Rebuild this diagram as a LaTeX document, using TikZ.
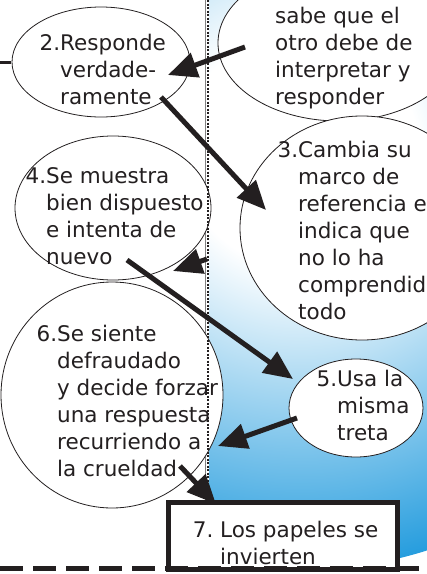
\documentclass[tikz,border=0pt]{standalone}
\usepackage{fontspec}
\setmainfont{DejaVu Sans}
\usetikzlibrary{arrows.meta,shapes.geometric}
\definecolor{skyb}{RGB}{38,157,222}
\definecolor{ink}{RGB}{35,31,32}
\pgfdeclareradialshading{bluerad}{\pgfpoint{0bp}{0bp}}{color(0bp)=(white); color(7bp)=(white); color(25bp)=(skyb); color(50bp)=(skyb)}
\newcommand{\hnum}[1]{\makebox[0pt][r]{#1}}
\tikzset{
  ell/.style={ellipse, draw=ink, line width=0.8pt, fill=white, inner sep=0pt},
  txt/.style={anchor=north west, inner sep=0pt, align=left, text=ink, font=\fontsize{21.5}{27}\selectfont},
  arr/.style={draw=ink, line width=5pt, -{Triangle[length=29pt,width=25pt]}},
  boxseven/.style={draw=ink, line width=5pt, fill=white, inner sep=0pt},
}
\begin{document}
\begin{tikzpicture}[x=1pt,y=-1pt]
\useasboundingbox (0,0) rectangle (427,574);
\clip (0,0) rectangle (427,574);
% gradient panel
\begin{scope}
  \clip (209,0) rectangle (427,574);
  \shade[shading=bluerad] (300,150) circle (420pt);
\end{scope}
% thin vertical line
\draw[gray, line width=0.8pt] (205,0) -- (205,500);
% ellipses
\node[ell, minimum width=242, minimum height=156] (e1) at (339,43) {};
\node[ell, minimum width=178, minimum height=110] (e2) at (101,62) {};
\node[ell, minimum width=244, minimum height=224] (e3) at (362,228) {};
\node[ell, minimum width=196, minimum height=144] (e4) at (113,208) {};
\node[ell, minimum width=222, minimum height=226] (e6) at (112,395) {};
\node[ell, minimum width=134, minimum height=98] (e5) at (356,408) {};
% box 7
\node[boxseven, minimum width=229, minimum height=67] (b7) at (283,535.5) {};
% texts
\node[txt] (t1) at (275,4.1) {\strut sabe que el\\otro debe de\\interpretar y\\responder};
\node[txt] (t2) at (60,31.1) {\strut\hnum{2.}Responde\\verdade-\\ramente};
\node[txt] (t3) at (298,138.1) {\strut\hnum{3.}Cambia su\\marco de\\referencia en\\indica que\\no lo ha\\comprendido\\todo};
\node[txt] (t4) at (46,164.1) {\strut\hnum{4.}Se muestra\\bien dispuesto\\e intenta de\\nuevo};
\node[txt] (t6) at (57,322.1) {\strut\hnum{6.}Se siente\\defraudado\\y decide forzar\\una respuesta\\recurriendo a\\la crueldad};
\node[txt] (t5) at (337,367.1) {\strut\hnum{5.}Usa la\\misma\\treta};
\node[txt] (t7) at (220,518.1) {\strut\hnum{7.\ }Los papeles se\\invierten};
% dotted vertical line
\draw[ink, line width=2.5pt, dash pattern=on 2pt off 1.5pt] (208,0) -- (208,500);
% dashed lines
\draw[ink, line width=3pt] (0,62) -- (11,62);
\draw[ink, line width=5pt, dash pattern=on 23pt off 10pt] (0,568) -- (427,568);
% arrow end points
\coordinate (a1s) at (245,47);  \coordinate (a1e) at (168,75);
\coordinate (a2s) at (161,97);  \coordinate (a2e) at (266,210);
\coordinate (a3s) at (207,259); \coordinate (a3e) at (173,271);
\coordinate (a4s) at (127,260); \coordinate (a4e) at (293,379);
\coordinate (a5s) at (297,418); \coordinate (a5e) at (218,446);
\coordinate (a6s) at (180,466); \coordinate (a6e) at (216,504);
\draw[arr] (a1s) -- (a1e);
\draw[arr] (a2s) -- (a2e);
\draw[arr] (a3s) -- (a3e);
\draw[arr] (a4s) -- (a4e);
\draw[arr] (a5s) -- (a5e);
\draw[arr] (a6s) -- (a6e);
\end{tikzpicture}
\end{document}
